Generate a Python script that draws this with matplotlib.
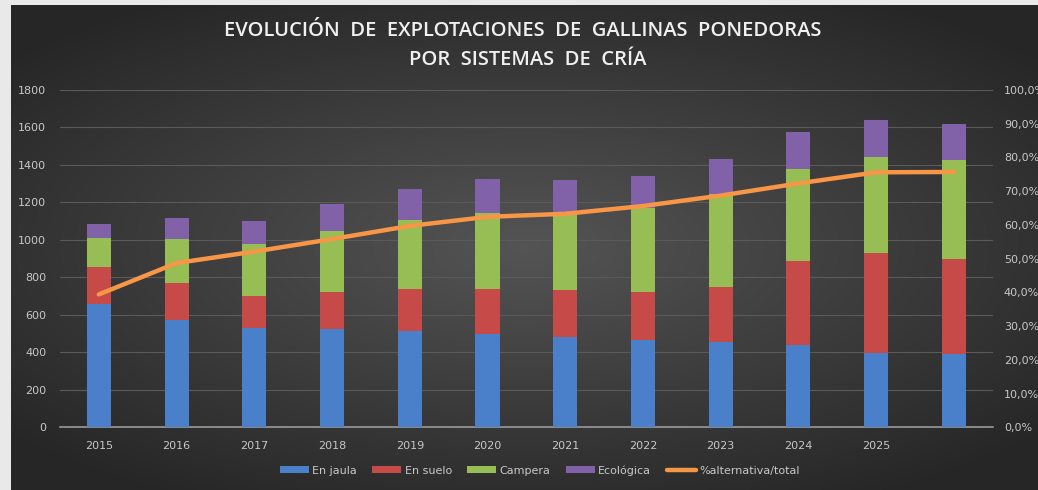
import numpy as np
import matplotlib
matplotlib.use("Agg")
import matplotlib.pyplot as plt
import matplotlib.ticker as mticker

years = ["2015", "2016", "2017", "2018", "2019", "2020",
         "2021", "2022", "2023", "2024", "2025", ""]

# segment heights
en_jaula = [656, 573, 528, 523, 512, 498, 484, 464, 453, 441, 396, 389]
en_suelo = [198, 199, 173, 201, 228, 238, 249, 258, 294, 446, 534, 509]
campera = [158, 233, 275, 322, 365, 409, 418, 450, 496, 493, 512, 527]
ecologica = [75, 112, 125, 146, 167, 182, 171, 167, 189, 198, 199, 194]
pct_alternativa = [39.4, 48.7, 52.1, 55.8, 59.7, 62.4, 63.3, 65.6, 68.7, 72.3, 75.6, 75.7]

C_BLUE = "#4a7fc9"
C_RED = "#c64b48"
C_GREEN = "#97bd55"
C_PURPLE = "#8162a8"
C_ORANGE = "#f79646"
TXT = "#c8c8c8"

fig = plt.figure(figsize=(10.38, 4.90), dpi=100, facecolor="#e9e9e9")

# dark radial background of the chart area
bg = fig.add_axes([11 / 1038, 0, 1 - 11 / 1038, 1 - 5 / 490])
yy, xx = np.mgrid[-1:1:300j, -1:1:600j]
r = np.sqrt((xx * 0.9) ** 2 + (yy * 1.0) ** 2)
shade = np.clip(0.33 - 0.15 * r, 0.15, 0.33)
bg.imshow(np.dstack([shade, shade, shade]), aspect="auto", extent=[0, 1, 0, 1])
bg.set_axis_off()

ax = fig.add_axes([60 / 1038, 1 - 427.3 / 490, (992.7 - 60) / 1038, (427.3 - 90) / 490])
ax.patch.set_alpha(0)
x = np.arange(len(years))
w = 0.31
b1 = np.array(en_jaula)
b2 = b1 + np.array(en_suelo)
b3 = b2 + np.array(campera)
ax.bar(x, en_jaula, w, color=C_BLUE, label="En jaula", zorder=3)
ax.bar(x, en_suelo, w, bottom=b1, color=C_RED, label="En suelo", zorder=3)
ax.bar(x, campera, w, bottom=b2, color=C_GREEN, label="Campera", zorder=3)
ax.bar(x, ecologica, w, bottom=b3, color=C_PURPLE, label="Ecológica", zorder=3)

ax.set_xlim(-0.5, len(years) - 0.5)
ax.set_ylim(0, 1800)
ax.set_yticks(range(0, 1801, 200))
ax.set_xticks(x)
ax.set_xticklabels(years)
ax.grid(axis="y", color="#5a5a5a", linewidth=0.8, zorder=0)
for s in ["top", "right", "left"]:
    ax.spines[s].set_visible(False)
ax.spines["bottom"].set_color("#9a9a9a")
ax.spines["bottom"].set_linewidth(1.2)
ax.tick_params(axis="both", length=0, colors=TXT, labelsize=8)
ax.tick_params(axis="x", pad=10)
ax.tick_params(axis="y", pad=10)

ax2 = ax.twinx()
ax2.plot(x, np.array(pct_alternativa) / 100, color=C_ORANGE, linewidth=3.2,
         solid_capstyle="round", label="%alternativa/total", zorder=5)
ax2.set_ylim(0, 1)
ax2.yaxis.set_major_locator(mticker.MultipleLocator(0.1))
ax2.yaxis.set_major_formatter(mticker.FuncFormatter(lambda v, p: f"{v * 100:.1f}%".replace(".", ",")))
for s in ax2.spines.values():
    s.set_visible(False)
ax2.tick_params(axis="y", length=0, colors=TXT, labelsize=8, pad=8)

fig.text(0.504, 0.937, "EVOLUCIÓN  DE  EXPLOTACIONES  DE  GALLINAS  PONEDORAS",
         ha="center", va="center", color="#f0f0f0", fontsize=14.5,
         fontweight="semibold", family="Open Sans")
fig.text(0.508, 0.877, "POR  SISTEMAS  DE  CRÍA",
         ha="center", va="center", color="#f0f0f0", fontsize=14.5,
         fontweight="semibold", family="Open Sans")

h1, l1 = ax.get_legend_handles_labels()
h2, l2 = ax2.get_legend_handles_labels()
leg = fig.legend(h1 + h2, l1 + l2, loc="center", bbox_to_anchor=(0.52, 0.04),
                 ncol=5, frameon=False, fontsize=8, handlelength=2.6,
                 handleheight=0.6, columnspacing=1.4, handletextpad=0.3)
for t in leg.get_texts():
    t.set_color(TXT)

fig.savefig("out.png", dpi=100, facecolor=fig.get_facecolor())
